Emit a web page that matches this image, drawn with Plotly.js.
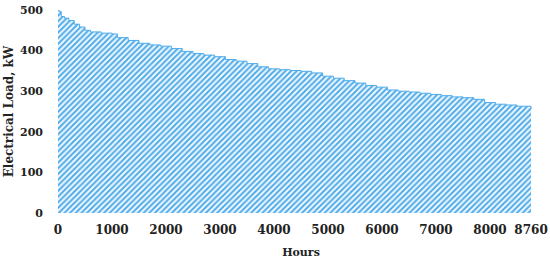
<!DOCTYPE html>
<html>
<head>
<meta charset="utf-8">
<script src="https://cdn.plot.ly/plotly-3.0.1.min.js"></script>
<style>
  html, body { margin: 0; padding: 0; background: #fff; }
  #chart { width: 550px; height: 260px; }
</style>
</head>
<body>
<div id="chart"></div>
<script>
// load duration curve, hours sorted by load
var hours = [0, 20, 60, 120, 200, 300, 400, 500, 600, 800, 1000, 1100, 1300, 1500, 1700,
  1900, 2100, 2300, 2500, 2700, 2900, 3100, 3300, 3500, 3700, 3900, 4100, 4300, 4500,
  4700, 4900, 5100, 5300, 5500, 5700, 5900, 6100, 6300, 6500, 6700, 6900, 7100, 7300,
  7500, 7700, 7900, 8100, 8300, 8500, 8760];
var load = [500, 496, 484, 480, 474, 465, 458, 450, 446, 443, 441, 432, 425, 418, 414,
  411, 405, 398, 393, 389, 385, 378, 374, 368, 360, 355, 353, 351, 349,
  345, 337, 332, 326, 320, 314, 310, 303, 300, 298, 295, 292, 289, 286,
  284, 280, 272, 268, 266, 263, 256];
var xTicks = [0, 1000, 2000, 3000, 4000, 5000, 6000, 7000, 8000, 8760];
var yTicks = [0, 100, 200, 300, 400, 500];

var trace = {
  x: hours,
  y: load,
  type: "scatter",
  mode: "lines",
  line: { shape: "hv", color: "#4fabea", width: 1 },
  fill: "tozeroy",
  fillcolor: "rgba(0,0,0,0)",
  fillpattern: { shape: "/", fgcolor: "#42a5e8", bgcolor: "#eaf5fd", size: 4, solidity: 0.45 },
};

var layout = {
  width: 550,
  height: 260,
  margin: { l: 58, r: 6, t: 10, b: 47 },
  paper_bgcolor: "#fff",
  plot_bgcolor: "#fff",
  showlegend: false,
  font: { family: "DejaVu Serif", color: "#222" },
  xaxis: {
    range: [0, 9000],
    tickvals: xTicks,
    ticktext: xTicks.map(String),
    showgrid: false,
    zeroline: false,
    showline: false,
    ticks: "",
    ticklabelstandoff: 8,
    tickfont: { family: "DejaVu Serif", size: 12, color: "#222", weight: "bold" },
    title: { text: "<b>Hours</b>", font: { family: "DejaVu Serif", size: 11, color: "#222" }, standoff: 12 },
  },
  yaxis: {
    range: [0, 500],
    tickvals: yTicks,
    showgrid: false,
    zeroline: false,
    showline: false,
    ticks: "",
    ticklabelstandoff: 14,
    tickfont: { family: "DejaVu Serif", size: 11, color: "#222", weight: "bold" },
    title: { text: "<b>Electrical Load, kW</b>", font: { family: "DejaVu Serif", size: 12, color: "#222" }, standoff: 3 },
  },
};

Plotly.newPlot("chart", [trace], layout, { displayModeBar: false, staticPlot: true });
</script>
</body>
</html>
